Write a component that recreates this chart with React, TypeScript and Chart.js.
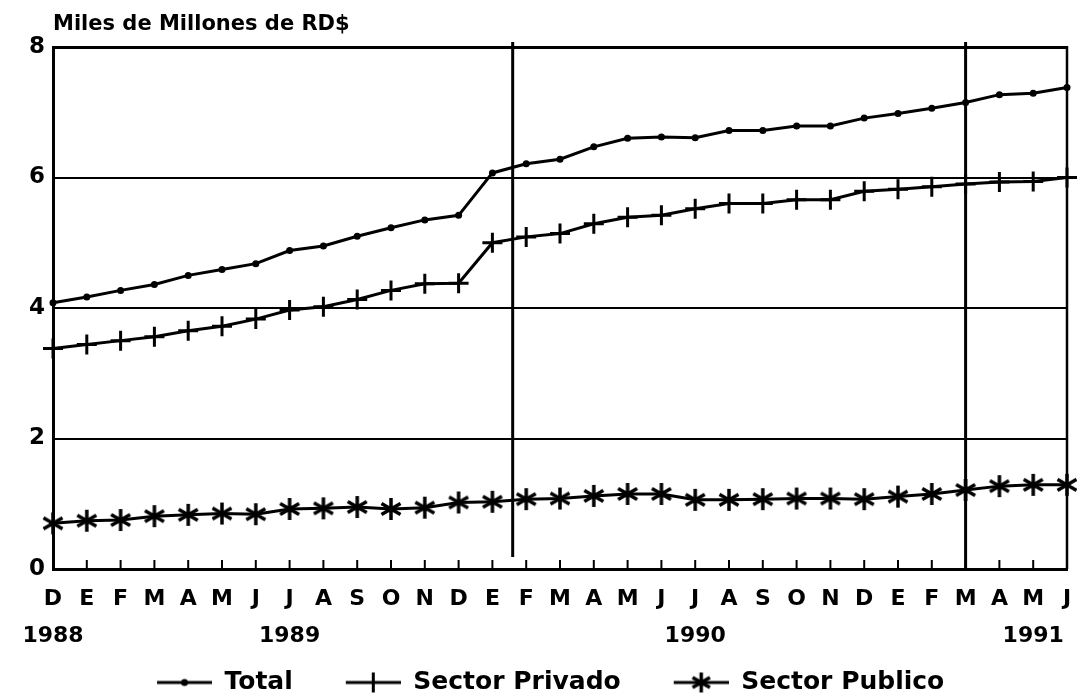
import React, { useEffect, useRef } from 'react';
import { Chart, registerables } from 'chart.js';

Chart.register(...registerables);

const months = ['D', 'E', 'F', 'M', 'A', 'M', 'J', 'J', 'A', 'S', 'O', 'N', 'D', 'E', 'F', 'M', 'A', 'M', 'J', 'J', 'A', 'S', 'O', 'N', 'D', 'E', 'F', 'M', 'A', 'M', 'J'];
const yearRow = ['1988', '', '', '', '', '', '', '1989', '', '', '', '', '', '', '', '', '', '', '', '1990', '', '', '', '', '', '', '', '', '', '1991', ''];

const total = [4.08, 4.17, 4.27, 4.36, 4.50, 4.59, 4.68, 4.88, 4.95, 5.10, 5.23, 5.35, 5.42, 6.07, 6.21, 6.28, 6.47, 6.60, 6.62, 6.61, 6.72, 6.72, 6.79, 6.79, 6.91, 6.98, 7.06, 7.15, 7.27, 7.29, 7.38];
const privado = [3.38, 3.44, 3.50, 3.56, 3.65, 3.72, 3.83, 3.97, 4.02, 4.13, 4.27, 4.37, 4.38, 5.00, 5.09, 5.14, 5.29, 5.39, 5.42, 5.52, 5.60, 5.60, 5.66, 5.66, 5.79, 5.82, 5.86, 5.90, 5.93, 5.94, 6.00];
const publico = [0.70, 0.74, 0.75, 0.81, 0.83, 0.85, 0.84, 0.92, 0.93, 0.95, 0.92, 0.94, 1.02, 1.03, 1.07, 1.08, 1.12, 1.15, 1.15, 1.06, 1.06, 1.07, 1.08, 1.08, 1.07, 1.11, 1.15, 1.21, 1.27, 1.29, 1.29];

const seriesNames = ['Total', 'Sector Privado', 'Sector Publico'];
const yTicks = [0, 2, 4, 6, 8];
const dividers = [13.6, 27];
const unitTitle = 'Miles de Millones de RD$';

const FONT = "'DejaVu Sans', 'Liberation Sans', sans-serif";

function drawAsterisk(ctx: CanvasRenderingContext2D, cx: number, cy: number, r: number, lw: number) {
  ctx.save();
  ctx.strokeStyle = '#000';
  ctx.lineWidth = lw;
  ctx.lineCap = 'butt';
  ctx.beginPath();
  for (const deg of [90, 30, 150]) {
    const a = (deg * Math.PI) / 180;
    ctx.moveTo(cx - Math.cos(a) * r, cy - Math.sin(a) * r);
    ctx.lineTo(cx + Math.cos(a) * r, cy + Math.sin(a) * r);
  }
  ctx.stroke();
  ctx.restore();
}

function makeAsterisk(size: number, lw: number): HTMLCanvasElement {
  const c = document.createElement('canvas');
  c.width = size;
  c.height = size;
  const ctx = c.getContext('2d')!;
  drawAsterisk(ctx, size / 2, size / 2, size / 2 - 1, lw);
  return c;
}

function makeLegendSample(kind: number): HTMLCanvasElement {
  const blank = 43;
  const w = 98;
  const h = 26;
  const c = document.createElement('canvas');
  c.width = w;
  c.height = h;
  const ctx = c.getContext('2d')!;
  const cy = h / 2;
  const mx = blank + (w - blank) / 2;
  ctx.strokeStyle = '#000';
  ctx.fillStyle = '#000';
  ctx.lineWidth = 3;
  ctx.beginPath();
  ctx.moveTo(blank, cy);
  ctx.lineTo(w, cy);
  ctx.stroke();
  if (kind === 0) {
    ctx.beginPath();
    ctx.arc(mx, cy, 3.5, 0, Math.PI * 2);
    ctx.fill();
  } else if (kind === 1) {
    ctx.beginPath();
    ctx.moveTo(mx, cy - 10);
    ctx.lineTo(mx, cy + 10);
    ctx.stroke();
  } else {
    drawAsterisk(ctx, mx, cy, 10, 3.5);
  }
  return c;
}

const decorPlugin = {
  id: 'decor',
  beforeDatasetsDraw(chart: any) {
    const { ctx, chartArea, scales } = chart;
    const x = scales.x;
    ctx.save();
    ctx.strokeStyle = '#000';
    ctx.lineWidth = 2.5;
    ctx.beginPath();
    ctx.moveTo(chartArea.right, chartArea.top - 1);
    ctx.lineTo(chartArea.right, chartArea.bottom);
    ctx.stroke();
    ctx.lineWidth = 3;
    dividers.forEach((v, i) => {
      const px = x.getPixelForValue(v);
      ctx.beginPath();
      ctx.moveTo(px, chartArea.top - 5);
      ctx.lineTo(px, i === 0 ? chartArea.bottom - 12 : chartArea.bottom);
      ctx.stroke();
    });
    ctx.lineWidth = 2;
    months.forEach((_, i) => {
      const px = x.getPixelForValue(i);
      ctx.beginPath();
      ctx.moveTo(px, chartArea.bottom);
      ctx.lineTo(px, chartArea.bottom - 9);
      ctx.stroke();
    });
    ctx.restore();
  },
  afterDraw(chart: any) {
    const { ctx, chartArea } = chart;
    ctx.save();
    ctx.fillStyle = '#000';
    ctx.font = `bold 21px ${FONT}`;
    ctx.textAlign = 'left';
    ctx.textBaseline = 'alphabetic';
    ctx.fillText(unitTitle, chartArea.left, chartArea.top - 17);
    ctx.restore();
  },
};

export default function App() {
  const ref = useRef<HTMLCanvasElement>(null);

  useEffect(() => {
    const star = makeAsterisk(24, 3.5);
    const legendImgs = [0, 1, 2].map(makeLegendSample);
    const chart = new Chart(ref.current!, {
      type: 'line',
      data: {
        labels: months.map((m, i) => [m, yearRow[i]]),
        datasets: [
          {
            label: seriesNames[0],
            data: total,
            borderColor: '#000',
            backgroundColor: '#000',
            borderWidth: 3,
            pointStyle: 'circle',
            pointRadius: 3.5,
            pointBorderWidth: 0,
            tension: 0,
          },
          {
            label: seriesNames[1],
            data: privado,
            borderColor: '#000',
            backgroundColor: '#000',
            borderWidth: 3,
            pointStyle: 'cross',
            pointRadius: 10,
            pointBorderWidth: 3,
            tension: 0,
          },
          {
            label: seriesNames[2],
            data: publico,
            borderColor: '#000',
            backgroundColor: '#000',
            borderWidth: 3,
            pointStyle: star as any,
            pointRadius: 10,
            tension: 0,
          },
        ],
      },
      options: {
        animation: false,
        responsive: true,
        maintainAspectRatio: false,
        layout: { autoPadding: false, padding: { left: 0, right: 10, top: 47, bottom: -6 } } as any,
        plugins: {
          title: { display: false },
          tooltip: { enabled: false },
          legend: {
            display: true,
            position: 'bottom',
            labels: {
              usePointStyle: true,
              pointStyleWidth: 98,
              padding: 10,
              color: '#000',
              font: { family: FONT, size: 25, weight: 'bold' },
              generateLabels: (c: any) =>
                c.data.datasets.map((ds: any, i: number) => ({
                  text: i === c.data.datasets.length - 1 ? ds.label + '\u00A0' : ds.label,
                  pointStyle: legendImgs[i],
                  fillStyle: '#000',
                  strokeStyle: '#000',
                  lineWidth: 0,
                  hidden: false,
                  datasetIndex: i,
                })),
            },
          },
        },
        scales: {
          x: {
            type: 'category',
            offset: false,
            grid: { display: false, drawTicks: false },
            border: { display: true, color: '#000', width: 3 },
            ticks: {
              autoSkip: false,
              maxRotation: 0,
              padding: 12,
              color: '#000',
              font: { family: FONT, size: 22, weight: 'bold', lineHeight: '37px' } as any,
            },
            afterFit: (s: any) => {
              s.height = 91;
              s.paddingLeft = 0;
              s.paddingRight = 0;
            },
          },
          y: {
            min: 0,
            max: 8,
            afterBuildTicks: (s: any) => {
              s.ticks = yTicks.map((v) => ({ value: v }));
            },
            grid: {
              color: '#000',
              lineWidth: (c: any) => (c.tick && c.tick.value === 8 ? 3 : 2),
              drawTicks: false,
            },
            border: { display: true, color: '#000', width: 3 },
            ticks: {
              padding: 8,
              color: '#000',
              font: { family: FONT, size: 23, weight: 'bold' },
            },
            afterFit: (s: any) => {
              s.width = 53;
            },
          },
        },
      },
      plugins: [decorPlugin],
    });
    return () => chart.destroy();
  }, []);

  return (
    <div style={{ position: 'fixed', left: 0, top: 0, width: 1077, height: 699, background: '#fff' }}>
      <canvas ref={ref} />
    </div>
  );
}
